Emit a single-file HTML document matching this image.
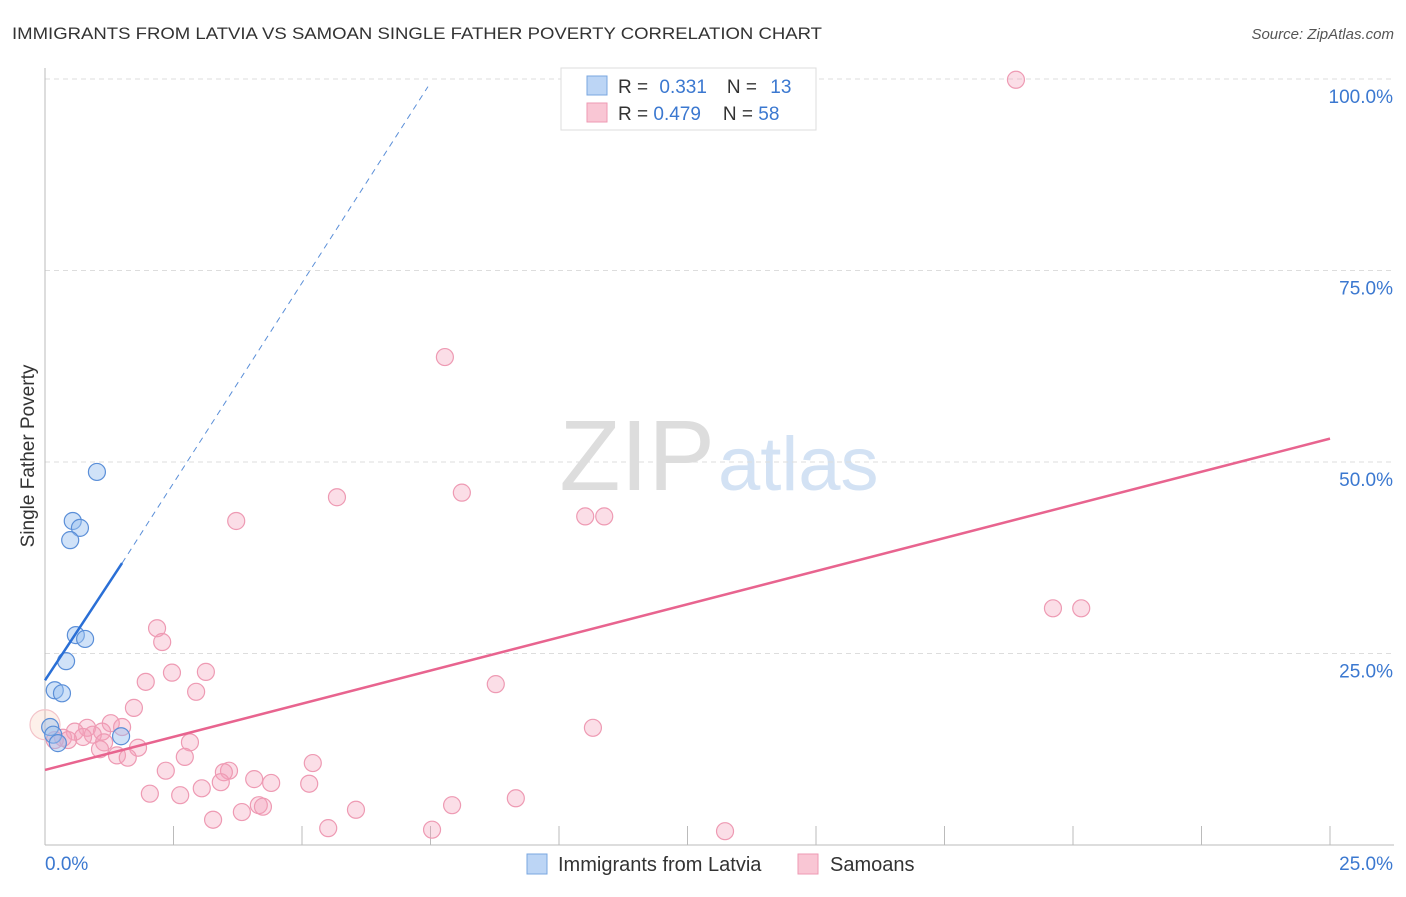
<!DOCTYPE html>
<html><head><meta charset="utf-8"><style>
body{margin:0;background:#fff;font-family:"Liberation Sans",sans-serif;}
svg text{font-family:"Liberation Sans",sans-serif;}
</style></head><body>
<svg id="c" width="1406" height="892">
<text x="12" y="39" font-size="17" fill="#333" textLength="810" lengthAdjust="spacingAndGlyphs">IMMIGRANTS FROM LATVIA VS SAMOAN SINGLE FATHER POVERTY CORRELATION CHART</text>
<text x="1394" y="39" font-size="15" fill="#555" font-style="italic" text-anchor="end">Source: ZipAtlas.com</text>
<text x="34" y="456" font-size="19" fill="#333" text-anchor="middle" transform="rotate(-90 34 456)">Single Father Poverty</text>
<text x="715" y="490" font-size="100" fill="#ddd" text-anchor="end" font-family="Liberation Serif">ZIP</text>
<text x="718" y="490" font-size="76" fill="#d3e2f4">atlas</text>
<g id="grid"></g><g id="pts"></g><g id="lines"></g>
<g>
<rect x="561" y="68" width="255" height="62" fill="#fff" stroke="#ddd"/>
<rect x="587" y="76" width="20" height="19" fill="#bcd5f5" stroke="#7aa7e0"/>
<rect x="587" y="103" width="20" height="19" fill="#f9c6d4" stroke="#ee9ab3"/>
<text x="618" y="93" font-size="19" fill="#333">R = <tspan fill="#3b78d0" dx="6">0.331</tspan><tspan dx="20" fill="#333">N = </tspan><tspan fill="#3b78d0" dx="8">13</tspan></text>
<text x="618" y="120" font-size="19" fill="#333">R = <tspan fill="#3b78d0">0.479</tspan><tspan dx="22" fill="#333">N = </tspan><tspan fill="#3b78d0">58</tspan></text>
</g>
<g>
<rect x="527" y="854" width="20" height="20" fill="#bcd5f5" stroke="#7aa7e0"/>
<text x="558" y="871" font-size="20" fill="#333">Immigrants from Latvia</text>
<rect x="798" y="854" width="20" height="20" fill="#f9c6d4" stroke="#ee9ab3"/>
<text x="830" y="871" font-size="20" fill="#333">Samoans</text>
</g>
</svg>
<script>
const blueX=[1.01,0.54,0.68,0.49,0.60,0.78,0.41,0.19,0.33,0.10,0.16,0.25,1.48];
const blueY=[48.7,42.3,41.4,39.8,27.4,26.9,24.0,20.2,19.8,15.4,14.4,13.3,14.2];
const pinkX=[18.89,7.78,5.68,8.11,3.72,10.51,10.88,19.61,20.16,2.18,2.28,2.47,3.13,1.96,2.94,8.77,1.73,10.66,1.28,1.50,0.82,1.11,0.58,0.93,0.74,0.35,0.45,1.15,2.82,1.81,1.07,1.40,1.61,2.72,5.21,2.35,3.58,3.48,4.07,3.42,4.40,5.14,3.05,2.04,2.63,9.16,4.16,4.24,7.92,6.05,3.83,3.27,5.51,7.53,13.23,0.0,0.19];
const pinkY=[99.9,63.7,45.4,46.0,42.3,42.9,42.9,30.9,30.9,28.3,26.5,22.5,22.6,21.3,20.0,21.0,17.9,15.3,15.9,15.4,15.3,14.8,14.8,14.4,14.1,14.0,13.7,13.4,13.4,12.7,12.5,11.7,11.4,11.5,10.7,9.7,9.7,9.5,8.6,8.2,8.1,8.0,7.4,6.7,6.5,6.1,5.2,5.0,5.2,4.6,4.3,3.3,2.2,2.0,1.8,15.7,13.7];
const yTicks=[25,50,75,100];
const xTickLabels=["0.0%","25.0%"];
const blueTrend=[21.5,10.2];
const pinkTrend=[9.8,1.73];
const NS="http://www.w3.org/2000/svg";
const sx=v=>45+v*51.4, sy=v=>845-v*7.66;
function mk(t,a,p){const e=document.createElementNS(NS,t);for(const k in a)e.setAttribute(k,a[k]);p.appendChild(e);return e;}
const g=document.getElementById('grid');
yTicks.forEach(t=>{
 const l=mk('line',{x1:45,x2:1394,y1:sy(t),y2:sy(t),stroke:'#ddd','stroke-dasharray':'5,4'},g);
 
 
 const tx=mk('text',{x:1393,y:sy(t)+24,'font-size':19,fill:'#3b78d0','text-anchor':'end'},g);
 tx.textContent=t.toFixed(1)+'%';
 
 
});
mk('line',{x1:45,x2:45,y1:68,y2:845,stroke:'#bbb'},g);
mk('line',{x1:45,x2:1394,y1:845,y2:845,stroke:'#bbb'},g);
for(let i=1;i<=10;i++){const x=sx(i*2.5);mk('line',{x1:x,x2:x,y1:826,y2:845,stroke:'#bbb'},g);}
const xl=mk('text',{x:45,y:870,'font-size':19,fill:'#3b78d0'},g);xl.textContent=xTickLabels[0];


const xr=mk('text',{x:1393,y:870,'font-size':19,fill:'#3b78d0','text-anchor':'end'},g);xr.textContent=xTickLabels[1];


const p=document.getElementById('pts');
pinkX.forEach((x,i)=>{const c=mk('circle',{cx:sx(x),cy:sy(pinkY[i]),r:(i==55?15:8.5),fill:(i==55?'rgba(244,180,150,0.2)':'rgba(244,160,185,0.35)'),stroke:(i==55?'#f3c3c9':'#ee9ab3'),'stroke-width':1.2},p);
 
 });
blueX.forEach((x,i)=>{const c=mk('circle',{cx:sx(x),cy:sy(blueY[i]),r:8.5,fill:'rgba(150,190,240,0.45)',stroke:'#5b8fd8','stroke-width':1.2},p);
 
 });
const L=document.getElementById('lines');
const b1=mk('line',{x1:sx(0),y1:sy(blueTrend[0]),x2:sx(1.5),y2:sy(blueTrend[0]+1.5*blueTrend[1]),stroke:'#2a6fd6','stroke-width':2.5},L);


const xe=(97.5-blueTrend[0])/blueTrend[1];
const b2=mk('line',{x1:sx(1.5),y1:sy(blueTrend[0]+1.5*blueTrend[1]),x2:sx(xe),y2:sy(97.5+1.5),stroke:'#5b8fd8','stroke-width':1,'stroke-dasharray':'6,5'},L);


const pl=mk('line',{x1:sx(0),y1:sy(pinkTrend[0]),x2:sx(25),y2:sy(pinkTrend[0]+25*pinkTrend[1]),stroke:'#e8648f','stroke-width':2.5},L);


</script>
</body></html>
